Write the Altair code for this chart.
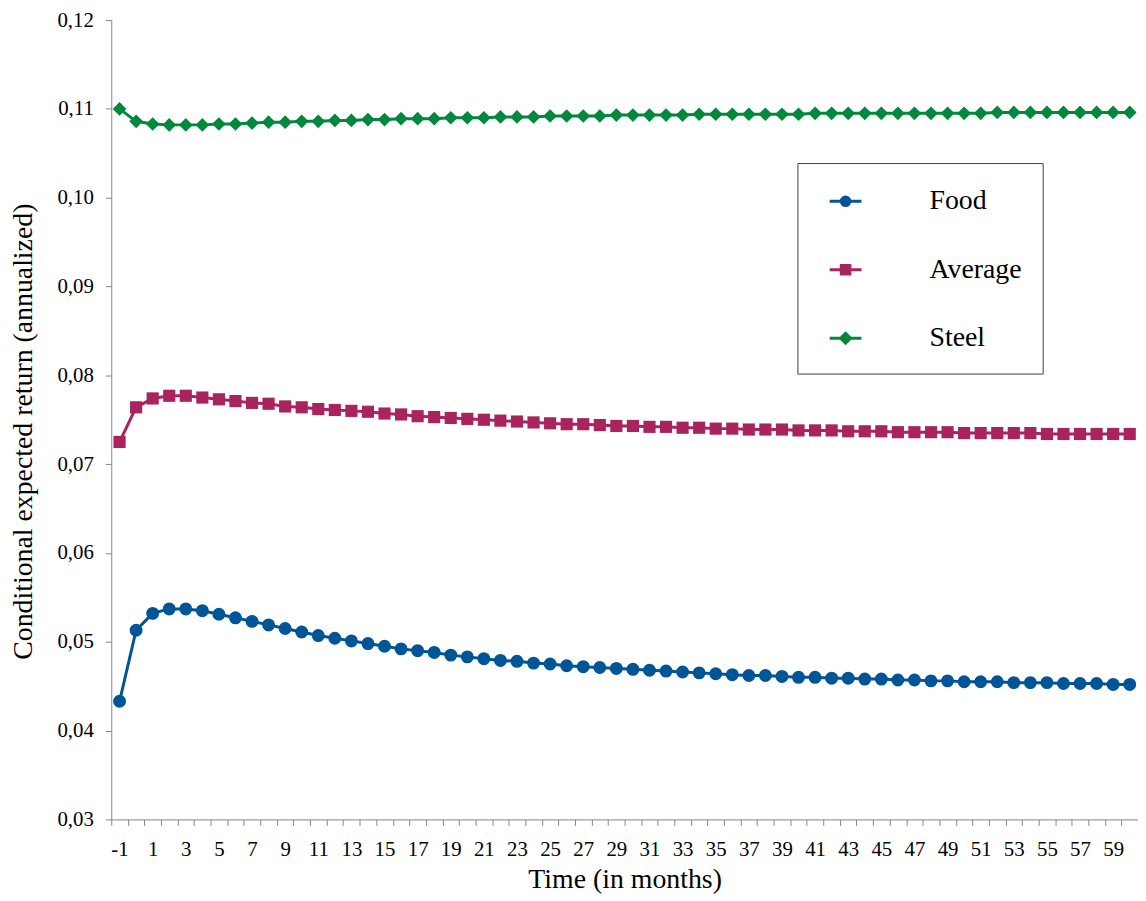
import altair as alt
import pandas as pd

# ---- data ----
series_names = ["Food", "Average", "Steel"]
series_colors = ["#005596", "#A9245E", "#00893D"]
series_shapes = ["circle", "square", "diamond"]
series_sizes = [170, 150, 190]

times = list(range(-1, 61))  # months -1 .. 60

food = [
    0.0433, 0.0513, 0.0532, 0.0537, 0.0537, 0.0535, 0.0531, 0.0527, 0.0523, 0.0519,
    0.0515, 0.0511, 0.0507, 0.0504, 0.0501, 0.0498, 0.0495, 0.0492, 0.0490, 0.0488,
    0.0485, 0.0483, 0.0481, 0.0479, 0.0478, 0.0476, 0.0475, 0.0473, 0.0472, 0.0471,
    0.0470, 0.0469, 0.0468, 0.0467, 0.0466, 0.0465, 0.0464, 0.0463, 0.0462, 0.0462,
    0.0461, 0.0460, 0.0460, 0.0459, 0.0459, 0.0458, 0.0458, 0.0457, 0.0457, 0.0456,
    0.0456, 0.0455, 0.0455, 0.0455, 0.0454, 0.0454, 0.0454, 0.0453, 0.0453, 0.0453,
    0.0452, 0.0452,
]
average = [
    0.0725, 0.0764, 0.0774, 0.0777, 0.0777, 0.0775, 0.0773, 0.0771, 0.0769, 0.0768,
    0.0765, 0.0764, 0.0762, 0.0761, 0.0760, 0.0759, 0.0757, 0.0756, 0.0754, 0.0753,
    0.0752, 0.0751, 0.0750, 0.0749, 0.0748, 0.0747, 0.0746, 0.0745, 0.0745, 0.0744,
    0.0743, 0.0743, 0.0742, 0.0742, 0.0741, 0.0741, 0.0740, 0.0740, 0.0739, 0.0739,
    0.0739, 0.0738, 0.0738, 0.0738, 0.0737, 0.0737, 0.0737, 0.0736, 0.0736, 0.0736,
    0.0736, 0.0735, 0.0735, 0.0735, 0.0735, 0.0735, 0.0734, 0.0734, 0.0734, 0.0734,
    0.0734, 0.0734,
]
steel = [
    0.1100, 0.1086, 0.1083, 0.1082, 0.1082, 0.1082, 0.1083, 0.1083, 0.1084, 0.1085,
    0.1085, 0.1086, 0.1086, 0.1087, 0.1087, 0.1088, 0.1088, 0.1089, 0.1089, 0.1089,
    0.1090, 0.1090, 0.1090, 0.1091, 0.1091, 0.1091, 0.1092, 0.1092, 0.1092, 0.1092,
    0.1093, 0.1093, 0.1093, 0.1093, 0.1093, 0.1094, 0.1094, 0.1094, 0.1094, 0.1094,
    0.1094, 0.1094, 0.1095, 0.1095, 0.1095, 0.1095, 0.1095, 0.1095, 0.1095, 0.1095,
    0.1095, 0.1095, 0.1095, 0.1096, 0.1096, 0.1096, 0.1096, 0.1096, 0.1096, 0.1096,
    0.1096, 0.1096,
]

y_ticks = [0.03, 0.04, 0.05, 0.06, 0.07, 0.08, 0.09, 0.10, 0.11, 0.12]

rows = []
for name, vals in zip(series_names, [food, average, steel]):
    for t, v in zip(times, vals):
        rows.append({"t": t, "value": v, "series": name})
df = pd.DataFrame(rows)

FONT = "Liberation Serif"
AXIS_GRAY = "#868686"

# colour lookup for the drawn series (data-driven domain, sorted by name)
color_map = dict(zip(series_names, series_colors))
sorted_names = sorted(series_names)
sorted_colors = [color_map[n] for n in sorted_names]

# legend symbols: short line segment with the series marker (unit-box SVG paths)
legend_paths = [
    "M-1,0H1M-0.27,0A0.27,0.27 0 1,0 0.27,0A0.27,0.27 0 1,0 -0.27,0Z",
    "M-1,0H1M-0.27,-0.27H0.27V0.27H-0.27Z",
    "M-1,0H1M0,-0.31L0.31,0L0,0.31L-0.31,0Z",
]

legend = alt.Legend(
    orient="none",
    legendX=691,
    legendY=144,
    title=None,
    padding=21,
    strokeColor="#404040",
    fillColor="white",
    labelFont=FONT,
    labelFontSize=28,
    labelColor="black",
    symbolSize=1024,
    symbolStrokeWidth=3,
    symbolOpacity=1,
    symbolOffset=10,
    labelOffset=67,
    rowPadding=37,
)

x_enc = alt.X(
    "t:O",
    scale=alt.Scale(type="band", domain=times, paddingInner=0, paddingOuter=0),
    axis=alt.Axis(
        title="Time (in months)",
        labelExpr="datum.value % 2 != 0 ? datum.label : ''",
        labelOverlap=False,
        labelAngle=0,
        tickBand="extent",
        labelBaseline="alphabetic",
        labelPadding=30,
        titleBaseline="alphabetic",
        titleY=69,
    ),
)

y_enc = alt.Y(
    "value:Q",
    scale=alt.Scale(domain=[0.03, 0.12], nice=False, zero=False),
    axis=alt.Axis(
        title="Conditional expected return (annualized)",
        values=y_ticks,
        labelExpr="replace(format(datum.value, '.2f'), '.', ',')",
        labelPadding=12,
        titleAngle=270,
        titleAlign="center",
        titleBaseline="middle",
        titleX=-88,
        titleY=414,
    ),
)

color_enc = alt.Color("series:N", scale=alt.Scale(range=sorted_colors), legend=None)

base = alt.Chart(df)

lines = base.mark_line(strokeWidth=3).encode(
    x=x_enc,
    y=y_enc,
    color=color_enc,
    detail="series:N",
)

point_layers = []
for name, shp, sz in zip(series_names, series_shapes, series_sizes):
    point_layers.append(
        base.transform_filter(alt.datum.series == name)
        .mark_point(filled=True, size=sz, opacity=1, shape=shp)
        .encode(x=x_enc, y=y_enc, color=color_enc)
    )

# legend-only layer (no rows drawn): its shape/fill/stroke scales feed the legend
legend_layer = (
    base.transform_filter("false")
    .mark_point(filled=True, opacity=1, strokeWidth=3)
    .encode(
        x=x_enc,
        y=y_enc,
        shape=alt.Shape(
            "series:N",
            scale=alt.Scale(domain=series_names, range=legend_paths),
            legend=legend,
        ),
        fill=alt.Fill(
            "series:N",
            scale=alt.Scale(domain=series_names, range=series_colors),
            legend=legend,
        ),
        stroke=alt.Stroke(
            "series:N",
            scale=alt.Scale(domain=series_names, range=series_colors),
            legend=legend,
        ),
    )
)

chart = (
    alt.layer(legend_layer, lines, *point_layers)
    .properties(
        width=1034,
        height=805,
        autosize=alt.AutoSizeParams(type="none"),
        padding={"left": 104, "top": 9, "right": 0, "bottom": 80},
        background="white",
    )
    .configure(font=FONT)
    .configure_view(stroke=None)
    .configure_axis(
        labelFont=FONT,
        labelFontSize=21,
        labelColor="black",
        titleFont=FONT,
        titleFontSize=28,
        titleFontWeight="normal",
        titleColor="black",
        tickSize=6,
        tickColor=AXIS_GRAY,
        domainColor=AXIS_GRAY,
        grid=False,
    )
    .configure_legend(
        labelFont=FONT,
        labelFontSize=28,
        labelColor="black",
        symbolSize=1024,
        symbolStrokeWidth=3,
    )
)

chart.save("out.html", embed_options={"renderer": "svg", "actions": False})
